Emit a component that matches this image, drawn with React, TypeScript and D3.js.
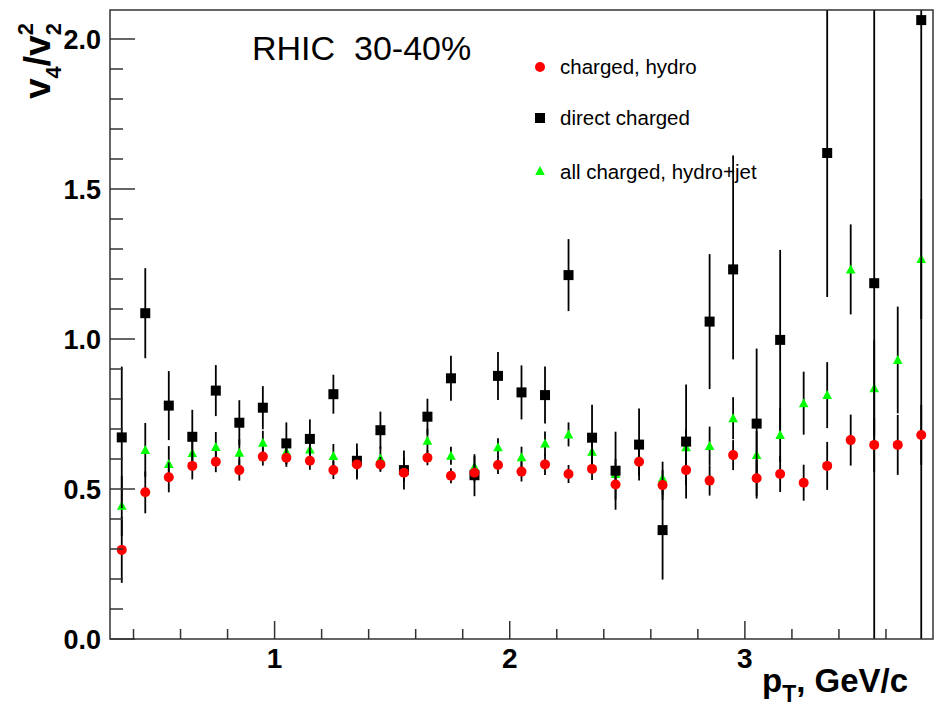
import React from 'react';
import * as d3 from 'd3';

const pT = [0.35, 0.45, 0.55, 0.65, 0.75, 0.85, 0.95, 1.05, 1.15, 1.25, 1.35, 1.45, 1.55, 1.65, 1.75, 1.85, 1.95, 2.05, 2.15, 2.25, 2.35, 2.45, 2.55, 2.65, 2.75, 2.85, 2.95, 3.05, 3.15, 3.25, 3.35, 3.45, 3.55, 3.65, 3.75];

const hydro = [0.297, 0.489, 0.539, 0.577, 0.591, 0.563, 0.608, 0.604, 0.594, 0.563, 0.582, 0.582, 0.554, 0.604, 0.544, 0.554, 0.58, 0.558, 0.582, 0.55, 0.567, 0.515, 0.591, 0.513, 0.563, 0.528, 0.613, 0.536, 0.55, 0.521, 0.577, 0.663, 0.647, 0.647, 0.68];
const hydroErr = [0.11, 0.07, 0.05, 0.045, 0.035, 0.035, 0.03, 0.03, 0.03, 0.03, 0.05, 0.025, 0.03, 0.025, 0.025, 0.03, 0.03, 0.033, 0.035, 0.03, 0.037, 0.05, 0.04, 0.05, 0.05, 0.05, 0.05, 0.06, 0.06, 0.06, 0.08, 0.085, 0.09, 0.1, 0.1];

const direct: (number | null)[] = [0.672, 1.086, 0.778, 0.674, 0.828, 0.721, 0.771, 0.652, 0.667, 0.816, 0.594, 0.696, 0.563, 0.741, 0.869, 0.546, 0.877, 0.822, 0.813, 1.213, 0.671, 0.561, 0.648, 0.363, 0.658, 1.058, 1.232, 0.718, 0.997, null, 1.62, null, 1.186, null, 2.063];
const directErrLow: (number | null)[] = [0.236, 0.15, 0.115, 0.09, 0.085, 0.075, 0.072, 0.07, 0.065, 0.065, 0.058, 0.062, 0.065, 0.06, 0.075, 0.07, 0.08, 0.09, 0.095, 0.12, 0.11, 0.13, 0.12, 0.165, 0.19, 0.225, 0.3, 0.25, 0.3, null, 0.48, null, 1.3, null, 2.2];
const directErrHigh: (number | null)[] = [0.236, 0.15, 0.115, 0.09, 0.085, 0.075, 0.072, 0.07, 0.065, 0.065, 0.058, 0.062, 0.065, 0.06, 0.075, 0.07, 0.08, 0.09, 0.095, 0.12, 0.11, 0.13, 0.12, 0.165, 0.19, 0.225, 0.38, 0.25, 0.3, null, 0.48, null, 1.3, null, 2.2];

const jet = [0.444, 0.63, 0.583, 0.62, 0.64, 0.621, 0.654, 0.624, 0.632, 0.61, 0.59, 0.602, 0.565, 0.661, 0.611, 0.574, 0.639, 0.606, 0.652, 0.682, 0.624, 0.55, 0.6, 0.536, 0.639, 0.643, 0.736, 0.613, 0.68, 0.786, 0.813, 1.232, 0.836, 0.93, 1.267];
const jetErr = [0.1, 0.09, 0.06, 0.05, 0.05, 0.045, 0.04, 0.04, 0.04, 0.04, 0.04, 0.04, 0.04, 0.04, 0.03, 0.035, 0.03, 0.035, 0.04, 0.04, 0.05, 0.05, 0.055, 0.055, 0.06, 0.065, 0.07, 0.08, 0.09, 0.105, 0.11, 0.15, 0.16, 0.178, 0.2];

const yMajorTicks = [0, 0.5, 1.0, 1.5, 2.0];
const yTickLabels = ['0.0', '0.5', '1.0', '1.5', '2.0'];
const xMajorTicks = [1, 2, 3];
const xTickLabels = ['1', '2', '3'];

const legendLabels = ['charged, hydro', 'direct charged', 'all charged, hydro+jet'];
const titleText = 'RHIC\u00A0\u00A030-40%';

const FONT = '"Liberation Sans", Arial, Helvetica, sans-serif';

export default function App() {
  const W = 939, H = 710;
  const L = 110, R = 933, T = 10, B = 639;
  const x = d3.scaleLinear().domain([0.3, 3.8]).range([L, R]);
  const y = d3.scaleLinear().domain([0, 2.1]).range([B, 9]);

  const yMinor = d3.range(1, 21).map((k) => k / 10).filter((v) => !yMajorTicks.some((m) => Math.abs(m - v) < 1e-6));
  const xMinor = d3.range(2, 19).map((k) => k / 5).filter((v) => !xMajorTicks.some((m) => Math.abs(m - v) < 1e-6) && v < 3.8);

  const tri = 'M0,-5L4.8,4L-4.8,4Z';

  const errLine = (xv: number, v: number, lo: number, hi: number, key: string) => (
    <line key={key} x1={x(xv)} x2={x(xv)} y1={y(v - lo)} y2={y(v + hi)} stroke="#000" strokeWidth={1.8} />
  );

  return (
    <svg width={W} height={H} style={{ position: 'absolute', left: 0, top: 0, background: '#fff' }} fontFamily={FONT}>
      <rect x={0} y={0} width={W} height={H} fill="#fff" />
      <defs>
        <clipPath id="frameClip">
          <rect x={L} y={T} width={R - L} height={B - T} />
        </clipPath>
      </defs>

      <g clipPath="url(#frameClip)">
        {pT.map((p, i) => errLine(p, jet[i], jetErr[i], jetErr[i], 'ge' + i))}
        {pT.map((p, i) => (
          <path key={'gm' + i} d={tri} transform={`translate(${x(p)},${y(jet[i])})`} fill="#00ff00" />
        ))}
        {pT.map((p, i) =>
          direct[i] != null && directErrLow[i] != null
            ? errLine(p, direct[i] as number, directErrLow[i] as number, directErrHigh[i] as number, 'be' + i)
            : null
        )}
        {pT.map((p, i) =>
          direct[i] != null ? (
            <rect key={'bm' + i} x={x(p) - 5} y={y(direct[i] as number) - 5} width={10} height={10} fill="#000" />
          ) : null
        )}
        {pT.map((p, i) => errLine(p, hydro[i], hydroErr[i], hydroErr[i], 're' + i))}
        {pT.map((p, i) => (
          <circle key={'rm' + i} cx={x(p)} cy={y(hydro[i])} r={5} fill="#ff0000" />
        ))}
      </g>

      <rect x={L} y={T} width={R - L} height={B - T} fill="none" stroke="#333" strokeWidth={1.5} />

      {yMajorTicks.map((v) => (
        <line key={'ym' + v} x1={L} x2={L + 25} y1={y(v)} y2={y(v)} stroke="#333" strokeWidth={1.5} />
      ))}
      {yMinor.map((v) => (
        <line key={'yn' + v} x1={L} x2={L + 13} y1={y(v)} y2={y(v)} stroke="#333" strokeWidth={1.5} />
      ))}
      {yMajorTicks.map((v, i) => (
        <text key={'yl' + v} x={L - 9} y={y(v)} dy="0.36em" textAnchor="end" fontSize={27} fontWeight="bold" fill="#000">
          {yTickLabels[i]}
        </text>
      ))}

      {xMajorTicks.map((v) => (
        <line key={'xm' + v} x1={x(v)} x2={x(v)} y1={B} y2={B - 18} stroke="#333" strokeWidth={1.5} />
      ))}
      {xMinor.map((v) => (
        <line key={'xn' + v} x1={x(v)} x2={x(v)} y1={B} y2={B - 10} stroke="#333" strokeWidth={1.5} />
      ))}
      {xMajorTicks.map((v, i) => (
        <text key={'xl' + v} x={x(v)} y={668} textAnchor="middle" fontSize={28} fontWeight="bold" fill="#000">
          {xTickLabels[i]}
        </text>
      ))}

      <text x={762} y={692} fontSize={33} fontWeight="bold" fill="#000">
        p<tspan fontSize={23} dy={10}>T</tspan>
        <tspan dy={-10}>, GeV/c</tspan>
      </text>

      <text transform="translate(50,99) rotate(-90)" fontSize={37} fontWeight="bold" fill="#000">
        v<tspan fontSize={22} dy={11}>4</tspan>
        <tspan dy={-11}>/v</tspan>
        <tspan fontSize={22} dy={11}>2</tspan>
        <tspan fontSize={22} dx={-12.2} dy={-28}>2</tspan>
      </text>

      <text x={252} y={60} fontSize={34} fill="#000">
        {titleText}
      </text>

      <circle cx={540} cy={67} r={5} fill="#ff0000" />
      <rect x={535} y={113} width={10} height={10} fill="#000" />
      <path d={tri} transform="translate(540,171)" fill="#00ff00" />
      {legendLabels.map((s, i) => (
        <text key={'lg' + i} x={560} y={[73.5, 125, 178.5][i]} fontSize={20.5} fill="#000">
          {s}
        </text>
      ))}
    </svg>
  );
}
